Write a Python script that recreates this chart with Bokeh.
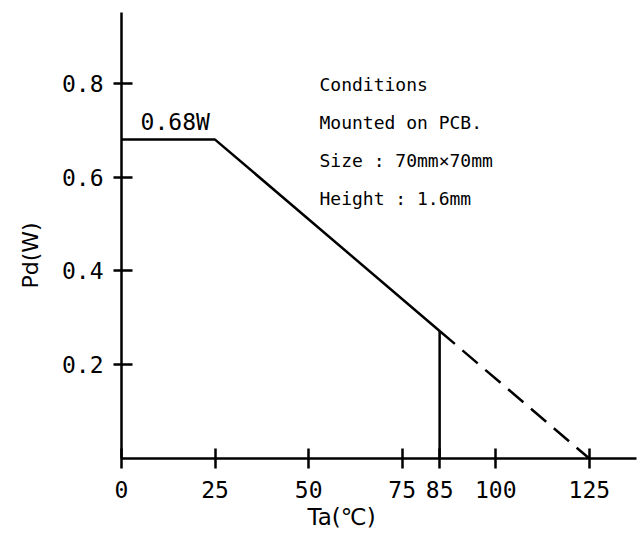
from bokeh.plotting import figure
from bokeh.models import Label, FixedTicker, Range1d, Title
from bokeh.embed import file_html
from bokeh.resources import INLINE

# ---- data ----
derating_x = [0, 25, 85]          # solid part (Ta, °C)
derating_y = [0.68, 0.68, 0.272]  # Pd (W)
dashed_x = [85, 125]
dashed_y = [0.272, 0.0]
limit_x = [85, 85]
limit_y = [0.0, 0.272]
x_ticks = [0, 25, 50, 75, 85, 100, 125]
y_ticks = [0.2, 0.4, 0.6, 0.8]
cond_lines = ["Conditions", "Mounted on PCB.", "Size : 70mm×70mm", "Height : 1.6mm"]
peak_label = "0.68W"
x_title = "Ta(℃)"
y_title = "Pd(W)"

MONO = "DejaVu Sans Mono"
SANS = "DejaVu Sans"
LW = 2.5

p = figure(width=638, height=538,
           x_range=Range1d(0, 137.6), y_range=Range1d(0, 0.951),
           output_backend="svg", toolbar_location=None,
           min_border_left=121, min_border_right=2,
           min_border_top=12, min_border_bottom=80)
p.outline_line_color = None
p.grid.visible = False
p.background_fill_color = "white"

for ax, ticks, tin, tout, st in ((p.xaxis, x_ticks, 10, 10, 12), (p.yaxis, y_ticks, 11, 8, 10)):
    ax.ticker = FixedTicker(ticks=ticks)
    ax.axis_line_width = LW
    ax.axis_line_color = "black"
    ax.major_tick_line_width = LW
    ax.major_tick_line_color = "black"
    ax.major_tick_in = tin
    ax.major_tick_out = tout
    ax.minor_tick_line_color = None
    ax.major_label_text_font = MONO
    ax.major_label_text_font_size = "23px"
    ax.major_label_text_color = "black"
    ax.major_label_standoff = st

# curves
p.line(derating_x, derating_y, line_color="black", line_width=LW)
p.line(dashed_x, dashed_y, line_color="black", line_width=LW, line_dash="20 10")
p.line(limit_x, limit_y, line_color="black", line_width=LW)

# peak label
p.add_layout(Label(x=5.1, y=0.718, text=peak_label, text_font=MONO,
                   text_font_size="23px", text_baseline="alphabetic",
                   text_color="black"))

# conditions block
for i, t in enumerate(cond_lines):
    p.add_layout(Label(x=52.9, y=0.798 - i * 0.0814, text=t, text_font=MONO,
                       text_font_size="18px", text_baseline="alphabetic",
                       text_color="black"))

# x axis title
p.add_layout(Title(text=x_title, align="left", offset=186, standoff=6,
                   vertical_align="top", text_font=SANS,
                   text_font_size="23px", text_font_style="normal",
                   text_color="black"), "below")

# y axis title
p.add_layout(Title(text=y_title, align="left", offset=170, standoff=30,
                   vertical_align="middle", text_font=SANS,
                   text_font_size="22px", text_font_style="normal",
                   text_color="black"), "left")

open("out.html", "w").write(file_html(p, INLINE))
